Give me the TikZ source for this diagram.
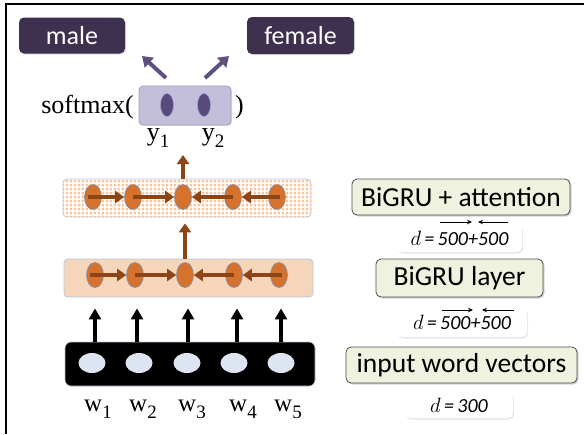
\documentclass[tikz,border=0pt]{standalone}
\usepackage{fontspec}
\setmainfont{Liberation Serif}
\newfontfamily\sansf{Carlito}
\usetikzlibrary{arrows.meta,shapes.geometric,shadows,patterns.meta}
\definecolor{labbox}{HTML}{3E3150}
\definecolor{purparrow}{HTML}{5F5080}
\definecolor{smfill}{HTML}{C3BFDA}
\definecolor{smdraw}{HTML}{A09CC4}
\definecolor{ynode}{HTML}{584A7E}
\definecolor{orn}{HTML}{D4722E}
\definecolor{ornedge}{HTML}{8090B0}
\definecolor{brown}{HTML}{8B4516}
\definecolor{peach}{HTML}{F6D6BA}
\definecolor{layeredge}{HTML}{B8C4D8}
\definecolor{wordnode}{HTML}{DDE5F2}
\definecolor{greenbox}{HTML}{EEF2DE}
\definecolor{dotcol}{HTML}{F7C39C}
\tikzdeclarepattern{
  name=softdots,
  type=uncolored,
  bounding box={(0pt,0pt) and (4.4pt,4.4pt)},
  tile size={(4.4pt,4.4pt)},
  code={\fill (2.2pt,2.2pt) circle (1.75pt);}
}
\newcommand\sub[1]{\raisebox{-0.28em}{\fontsize{19}{19}\selectfont #1}}
\begin{document}
\begin{tikzpicture}[x=1pt,y=-1pt,
  labelbox/.style={draw=none,fill=labbox,rounded corners=5pt,text=white,font=\sansf\fontsize{26}{26}\selectfont,inner sep=0pt,drop shadow={opacity=0.25,shadow xshift=1pt,shadow yshift=-1pt}},
  purparr/.style={draw=purparrow,line width=4pt,-{Triangle[length=10pt,width=13pt]}},
  brownarr/.style={draw=brown,line width=4pt,-{Triangle[length=9pt,width=12pt]}},
  blackarr/.style={draw=black,line width=3.2pt,-{Triangle[length=11pt,width=12pt]}},
  thinarr/.style={draw=black,line width=0.9pt,-{Stealth[length=5pt,width=4.5pt]}},
  gnode/.style={ellipse,fill=orn,draw=ornedge,line width=0.6pt,minimum width=17pt,minimum height=25pt,inner sep=0pt},
  wnode/.style={ellipse,fill=wordnode,draw=none,minimum width=27pt,minimum height=20pt,inner sep=0pt},
  ynodest/.style={ellipse,fill=ynode,draw=smdraw,line width=0.5pt,minimum width=13pt,minimum height=23pt,inner sep=0pt},
  layerbox/.style={rounded corners=4pt,draw=layeredge,line width=0.8pt,inner sep=0pt},
  sidebox/.style={rounded corners=5pt,draw=black!70,line width=0.8pt,fill=greenbox,inner sep=0pt,font=\sansf\fontsize{27.5}{27.5}\selectfont,drop shadow={opacity=0.35,shadow xshift=1.5pt,shadow yshift=-1.5pt}},
  dbox/.style={rounded corners=5pt,draw=none,fill=white,inner sep=0pt,font=\sansf\itshape\fontsize{20}{20}\selectfont,drop shadow={opacity=0.2,shadow xshift=1pt,shadow yshift=-1.5pt}},
  serif/.style={font=\fontsize{26}{26}\selectfont,inner sep=0pt}
]
\useasboundingbox (0,0) rectangle (584,434);
\draw[line width=1.2pt] (6,434) -- (6,4) -- (584,4);

% output labels
\node[labelbox,minimum width=106pt,minimum height=36pt] (male) at (72,35.5) {male};
\node[labelbox,minimum width=107pt,minimum height=37pt] (female) at (300.5,35.5) {female};

% softmax
\node[rounded corners=4pt,fill=smfill,draw=smdraw,line width=0.8pt,minimum width=92pt,minimum height=39pt,inner sep=0pt,drop shadow={opacity=0.2,shadow xshift=1pt,shadow yshift=-1pt}] (sm) at (185,105.5) {};
\node[ynodest] (y1e) at (167,105) {};
\node[ynodest] (y2e) at (204,105) {};
\node[serif,anchor=base east] (smtxt) at (134,113) {softmax(};
\node[serif,anchor=base west] (smclose) at (235,113) {)};
\node[serif,anchor=base] (y1) at (158,140) {y\sub{1}};
\node[serif,anchor=base] (y2) at (213,140) {y\sub{2}};
\coordinate (pl0) at (166,78);
\coordinate (pl1) at (142,56);
\coordinate (pr0) at (205,78);
\coordinate (pr1) at (229,56);
\draw[purparr] (pl0) -- (pl1);
\draw[purparr] (pr0) -- (pr1);

% attention layer
\node[layerbox,fill=white,postaction={pattern=softdots,pattern color=dotcol},minimum width=248pt,minimum height=38pt] (att) at (187,198) {};
\foreach \i/\x in {1/93,2/133,3/183,4/233,5/277}{
  \node[gnode] (a\i) at (\x,197) {};
}
\draw[brownarr] ([xshift=-5pt]a1.center) -- (a2.west);
\draw[brownarr] (a2.center) -- (a3.west);
\draw[brownarr] (a4.center) -- (a3.east);
\draw[brownarr] ([xshift=3pt]a5.center) -- (a4.east);
\coordinate (smtip) at (183,155);
\draw[brownarr] (att.north -| a3) -- (smtip);

% BiGRU layer
\node[layerbox,fill=peach,minimum width=249pt,minimum height=38pt] (bg) at (188.5,278) {};
\foreach \i/\x in {1/95,2/135,3/185,4/234,5/279}{
  \node[gnode] (b\i) at (\x,275) {};
}
\draw[brownarr] ([xshift=-5pt]b1.center) -- (b2.west);
\draw[brownarr] (b2.center) -- (b3.west);
\draw[brownarr] (b4.center) -- (b3.east);
\draw[brownarr] ([xshift=3pt]b5.center) -- (b4.east);
\draw[brownarr,shorten >=6pt] (bg.north -| b3) -- (att.south -| b3);

% input layer
\node[rounded corners=6pt,fill=black,draw=layeredge,line width=0.6pt,minimum width=250pt,minimum height=44pt,inner sep=0pt] (inp) at (190,364) {};
\foreach \i/\x/\lx in {1/92/98,2/139/143,3/187/192,4/234/243,5/281/288}{
  \node[wnode] (e\i) at (\x,363) {};
  \node[serif,font=\fontsize{25}{25}\selectfont,anchor=base] (w\i) at (\lx,411) {w\sub{\i}};
}
\foreach \i/\x in {1/95,2/137,3/188,4/237,5/281}{
  \coordinate (ua\i) at (\x,342);
  \draw[blackarr,shorten >=11pt] (ua\i) -- (ua\i |- bg.south);
}

% side labels
\node[sidebox,minimum width=218pt,minimum height=36pt] (r1) at (461,197) {BiGRU + attention};
\node[dbox,minimum width=125pt,minimum height=27pt] (d1) at (459.5,238.5) {$d$\,=\,500+500};
\node[sidebox,minimum width=167pt,minimum height=38pt] (r2) at (459.5,278) {BiGRU layer};
\node[dbox,minimum width=130pt,minimum height=29pt] (d2) at (462,322.5) {$d$\,=\,500+500};
\node[sidebox,minimum width=231pt,minimum height=36pt] (r3) at (461.5,365) {input word vectors};
\node[dbox,minimum width=108pt,minimum height=26pt] (d3) at (459,405) {$d$\,=\,300};

% direction marks above the dimensions
\coordinate (d1r0) at (440,222); \coordinate (d1r1) at (472,222);
\coordinate (d1l0) at (508,222); \coordinate (d1l1) at (478,222);
\coordinate (d2r0) at (442,310); \coordinate (d2r1) at (473,310);
\coordinate (d2l0) at (514,310); \coordinate (d2l1) at (482,310);
\draw[thinarr] (d1r0) -- (d1r1);
\draw[thinarr] (d1l0) -- (d1l1);
\draw[thinarr] (d2r0) -- (d2r1);
\draw[thinarr] (d2l0) -- (d2l1);
\end{tikzpicture}
\end{document}
